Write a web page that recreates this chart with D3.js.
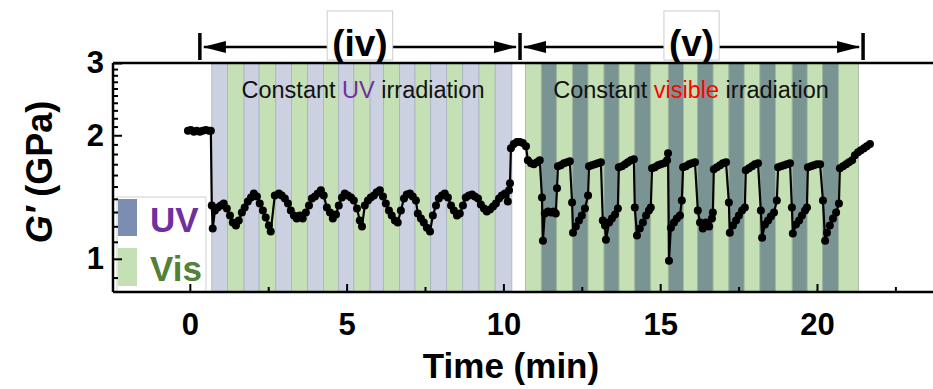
<!DOCTYPE html>
<html>
<head>
<meta charset="utf-8">
<script src="https://cdn.jsdelivr.net/npm/d3@7"></script>
<style>
  body { margin: 0; background: #fff; }
  svg { display: block; font-family: "Liberation Sans", Arial, sans-serif; }
</style>
</head>
<body>
<div id="chart"></div>
<script>
// G' (GPa) vs time (min), [t, G]
const gBefore = [[-0.06,2.05],[0.03,2.06],[0.13,2.04],[0.22,2.05],[0.32,2.04],[0.41,2.05],[0.51,2.06],[0.61,2.05],[0.67,2.05]];
const gUV = [[0.70,1.349],[0.73,1.185],[0.80,1.311],[0.89,1.334],[0.99,1.349],[1.08,1.364],[1.18,1.326],[1.28,1.275],[1.37,1.225],[1.47,1.205],
  [1.56,1.239],[1.66,1.297],[1.75,1.334],[1.85,1.380],[1.95,1.411],[2.04,1.443],[2.14,1.419],[2.23,1.364],[2.33,1.311],[2.42,1.260],
  [2.52,1.205],[2.58,1.165],[2.71,1.427],[2.84,1.443],[2.93,1.427],[3.03,1.403],[3.13,1.364],[3.22,1.311],[3.32,1.275],[3.41,1.253],
  [3.51,1.275],[3.60,1.253],[3.70,1.297],[3.80,1.349],[3.89,1.403],[3.99,1.419],[4.08,1.443],[4.18,1.468],[4.27,1.427],[4.37,1.334],
  [4.47,1.297],[4.56,1.253],[4.66,1.282],[4.75,1.349],[4.85,1.411],[4.94,1.443],[5.04,1.427],[5.14,1.411],[5.23,1.387],[5.33,1.326],
  [5.42,1.239],[5.49,1.198],[5.58,1.349],[5.68,1.387],[5.77,1.411],[5.87,1.427],[5.96,1.452],[6.06,1.468],[6.16,1.419],[6.25,1.364],
  [6.35,1.311],[6.44,1.275],[6.54,1.239],[6.63,1.225],[6.73,1.311],[6.83,1.403],[6.92,1.435],[7.02,1.443],[7.11,1.419],[7.21,1.387],
  [7.27,1.289],[7.37,1.253],[7.46,1.225],[7.56,1.191],[7.66,1.165],[7.75,1.275],[7.85,1.349],[7.94,1.403],[8.04,1.427],[8.13,1.443],
  [8.23,1.411],[8.33,1.349],[8.42,1.311],[8.52,1.275],[8.61,1.289],[8.71,1.349],[8.80,1.411],[8.90,1.427],[9.00,1.435],[9.09,1.419],
  [9.19,1.403],[9.28,1.356],[9.38,1.326],[9.47,1.304],[9.57,1.319],[9.67,1.341],[9.76,1.364],[9.86,1.403],[9.95,1.427],[10.05,1.443],
  [10.14,1.380],[10.18,1.468],[10.21,1.528]];
const gRecover = [[10.24,1.860],[10.33,1.903],[10.43,1.925],[10.53,1.925],[10.62,1.914],[10.72,1.881]];
const gVis = [[10.78,1.738],[10.88,1.709],[10.97,1.699],[11.07,1.718],[11.16,1.738],
  [11.23,1.411],[11.26,1.107],[11.32,1.289],[11.42,1.304],[11.52,1.297],[11.61,1.304],[11.67,1.289],[11.71,1.485],[11.74,1.680],[11.83,1.690],[11.93,1.709],[12.03,1.718],[12.12,1.728],
  [12.19,1.372],[12.22,1.158],[12.31,1.198],[12.41,1.239],[12.50,1.275],[12.60,1.326],[12.70,1.427],[12.73,1.680],[12.82,1.690],[12.92,1.699],[13.01,1.709],[13.11,1.718],
  [13.17,1.239],[13.24,1.205],[13.27,1.113],[13.37,1.225],[13.46,1.253],[13.56,1.282],[13.65,1.326],[13.68,1.671],[13.78,1.680],[13.88,1.699],[13.97,1.718],[14.07,1.738],[14.16,1.748],
  [14.19,1.334],[14.26,1.139],[14.35,1.185],[14.45,1.225],[14.55,1.275],[14.64,1.311],[14.70,1.334],[14.74,1.661],[14.83,1.671],[14.93,1.690],[15.02,1.699],[15.12,1.709],[15.22,1.738],[15.25,1.808],
  [15.28,0.989],[15.34,1.191],[15.44,1.225],[15.53,1.253],[15.63,1.275],[15.69,1.387],[15.73,1.671],[15.82,1.680],[15.92,1.699],[16.01,1.709],[16.11,1.718],
  [16.20,1.311],[16.27,1.225],[16.36,1.185],[16.46,1.225],[16.56,1.198],[16.65,1.253],[16.68,1.297],[16.71,1.652],[16.81,1.671],[16.91,1.690],[17.00,1.709],[17.10,1.718],
  [17.19,1.372],[17.22,1.158],[17.32,1.205],[17.42,1.239],[17.51,1.275],[17.61,1.311],[17.70,1.334],[17.73,1.643],[17.83,1.661],[17.93,1.680],[18.02,1.699],[18.12,1.709],
  [18.21,1.311],[18.25,1.126],[18.34,1.212],[18.44,1.239],[18.53,1.268],[18.63,1.297],[18.72,1.387],[18.76,1.671],[18.85,1.680],[18.95,1.690],[19.04,1.699],[19.14,1.709],
  [19.20,1.334],[19.23,1.152],[19.33,1.212],[19.43,1.239],[19.52,1.275],[19.62,1.311],[19.68,1.334],[19.71,1.671],[19.81,1.680],[19.90,1.690],[20.00,1.699],[20.10,1.699],
  [20.19,1.387],[20.26,1.107],[20.32,1.158],[20.41,1.205],[20.51,1.253],[20.61,1.297],[20.70,1.364],[20.73,1.661],[20.83,1.680],[20.93,1.699],[21.02,1.718],[21.12,1.738],
  [21.21,1.788],[21.31,1.819],[21.40,1.839],[21.50,1.860],[21.59,1.881],[21.69,1.903]];

// light pulse boundaries (min)
const uvStripeEdges = [0.70,1.20,1.73,2.21,2.74,3.24,3.75,4.26,4.75,5.23,5.75,6.18,6.69,7.18,7.68,8.19,8.70,9.22,9.74,10.27];
const visStripeEdges = [10.70,11.21,11.70,12.21,12.70,13.21,13.69,14.19,14.70,15.26,15.74,16.19,16.69,17.19,17.68,18.18,18.68,19.21,19.69,20.18,20.69,21.32];

const xTicks = [0, 5, 10, 15, 20];
const xMinor = [2.5, 7.5, 12.5, 17.5, 22.5];
const yTicks = [1, 2, 3];
const yMinor = [0.9,1.1,1.2,1.3,1.4,1.5,1.6,1.7,1.8,1.9,2.1,2.2,2.3,2.4,2.5,2.6,2.7,2.8,2.9];

// stage brackets on top: [start, end, label]
const stages = [[0.32, 10.53, "(iv)"], [10.53, 21.47, "(v)"]];

const width = 933, height = 389;
const pLeft = 113, pRight = 933, pTop = 63, pBottom = 292;

const svg = d3.select("#chart").append("svg")
  .attr("width", width).attr("height", height);

const x = d3.scaleLinear().domain([-2.45, 23.7]).range([pLeft, pRight]);
const y = d3.scaleLog().domain([0.83, 3]).range([pBottom, pTop]);

// stripes
function stripes(edges, colors, stroke) {
  const segs = d3.pairs(edges).map((p, i) => ({ a: p[0], b: p[1], c: colors[i % 2] }));
  svg.append("g").selectAll("rect").data(segs).enter().append("rect")
    .attr("x", d => x(d.a)).attr("width", d => x(d.b) - x(d.a))
    .attr("y", pTop).attr("height", pBottom - pTop)
    .attr("fill", d => d.c)
    .attr("stroke", stroke).attr("stroke-width", 0.8);
}
stripes(uvStripeEdges, ["#cbd1e0", "#c5e0b4"], "#a7b3c4");
stripes(visStripeEdges, ["#c5e0b4", "#7a9494"], "#9fb79a");

// data
const allData = gBefore.concat(gUV, gRecover, gVis);
const line = d3.line().x(d => x(d[0])).y(d => y(d[1]));
svg.append("path").datum(allData)
  .attr("d", line).attr("fill", "none")
  .attr("stroke", "#000").attr("stroke-width", 2.2);
svg.append("g").selectAll("circle").data(allData).enter().append("circle")
  .attr("cx", d => x(d[0])).attr("cy", d => y(d[1]))
  .attr("r", 4).attr("fill", "#000");

// legend
const lg = svg.append("g");
lg.append("rect").attr("x", 117).attr("y", 197).attr("width", 89).attr("height", pBottom - 197)
  .attr("fill", "#fff").attr("stroke", "#d0d0d0").attr("stroke-width", 1);
lg.append("rect").attr("x", 118).attr("y", 199).attr("width", 19).attr("height", 37).attr("fill", "#7b8db0");
lg.append("rect").attr("x", 118).attr("y", 248).attr("width", 19).attr("height", 38).attr("fill", "#c5e0b4");
lg.append("text").attr("x", 150).attr("y", 232).attr("font-size", 35).attr("font-weight", "bold")
  .attr("fill", "#7030a0").text("UV");
lg.append("text").attr("x", 150).attr("y", 281).attr("font-size", 35).attr("font-weight", "bold")
  .attr("fill", "#538135").text("Vis");

// axes
const xAxis = svg.append("g").attr("transform", `translate(0,${pBottom})`)
  .call(d3.axisBottom(x).tickValues(xTicks).tickSize(-8).tickPadding(21));
svg.append("g").attr("transform", `translate(0,${pBottom})`)
  .call(d3.axisBottom(x).tickValues(xMinor).tickSize(-5).tickFormat(""));
const yAxis = svg.append("g").attr("transform", `translate(${pLeft},0)`)
  .call(d3.axisLeft(y).tickValues(yTicks).tickSize(-9).tickPadding(9).tickFormat(d3.format("d")));
svg.append("g").attr("transform", `translate(${pLeft},0)`)
  .call(d3.axisLeft(y).tickValues(yMinor).tickSize(-5).tickFormat(""));

svg.selectAll(".domain").remove();
svg.selectAll(".tick line").attr("stroke", "#000").attr("stroke-width", 2);
[xAxis, yAxis].forEach(a => a.selectAll("text")
  .attr("font-size", 31).attr("font-weight", "bold").attr("fill", "#000")
  .attr("font-family", "'Liberation Sans', Arial, sans-serif"));

svg.append("line").attr("x1", pLeft).attr("x2", pRight).attr("y1", pBottom).attr("y2", pBottom)
  .attr("stroke", "#000").attr("stroke-width", 2.5);
svg.append("line").attr("x1", pLeft).attr("x2", pRight).attr("y1", pTop).attr("y2", pTop)
  .attr("stroke", "#000").attr("stroke-width", 2.5);
svg.append("line").attr("x1", pLeft).attr("x2", pLeft).attr("y1", pTop).attr("y2", pBottom)
  .attr("stroke", "#000").attr("stroke-width", 2.5);

// axis titles
svg.append("text").attr("x", 511).attr("y", 378).attr("text-anchor", "middle")
  .attr("font-size", 35).attr("font-weight", "bold").text("Time (min)");
const yt = svg.append("text").attr("transform", "translate(52,172) rotate(-90)")
  .attr("text-anchor", "middle").attr("font-size", 36).attr("font-weight", "bold");
yt.append("tspan").attr("font-style", "italic").text("G′");
yt.append("tspan").text(" (GPa)");

// stage brackets
const ay = 47;
stages.forEach(([a, b, label]) => {
  const xa = x(a), xb = x(b);
  const g = svg.append("g");
  g.append("line").attr("x1", xa + 4).attr("x2", xb - 4).attr("y1", ay).attr("y2", ay)
    .attr("stroke", "#000").attr("stroke-width", 2.5);
  g.append("path").attr("d", `M${xa + 3},${ay} L${xa + 26},${ay - 6} L${xa + 26},${ay + 6} Z`).attr("fill", "#000");
  g.append("path").attr("d", `M${xb - 3},${ay} L${xb - 26},${ay - 6} L${xb - 26},${ay + 6} Z`).attr("fill", "#000");
  const cx = (xa + xb) / 2;
  const t = g.append("text").attr("x", cx).attr("y", 56).attr("text-anchor", "middle")
    .attr("font-size", 37).attr("font-weight", "bold").text(label);
  const bb = t.node().getBBox();
  g.insert("rect", "text").attr("x", bb.x - 5).attr("y", 11).attr("width", bb.width + 10).attr("height", 49)
    .attr("fill", "#fff").attr("stroke", "#cccccc").attr("stroke-width", 1);
});
// end bars
[stages[0][0], stages[0][1], stages[1][1]].forEach(t => {
  svg.append("line").attr("x1", x(t)).attr("x2", x(t)).attr("y1", 33).attr("y2", 60)
    .attr("stroke", "#000").attr("stroke-width", 3.5);
});

// condition notes
const n1 = svg.append("text").attr("x", 363).attr("y", 98).attr("text-anchor", "middle")
  .attr("font-size", 23.5).attr("fill", "#111");
n1.append("tspan").text("Constant ");
n1.append("tspan").attr("fill", "#7030a0").text("UV");
n1.append("tspan").text(" irradiation");
const n2 = svg.append("text").attr("x", 691).attr("y", 98).attr("text-anchor", "middle")
  .attr("font-size", 23.5).attr("fill", "#111");
n2.append("tspan").text("Constant ");
n2.append("tspan").attr("fill", "#ff0000").text("visible");
n2.append("tspan").text(" irradiation");
</script>
</body>
</html>
